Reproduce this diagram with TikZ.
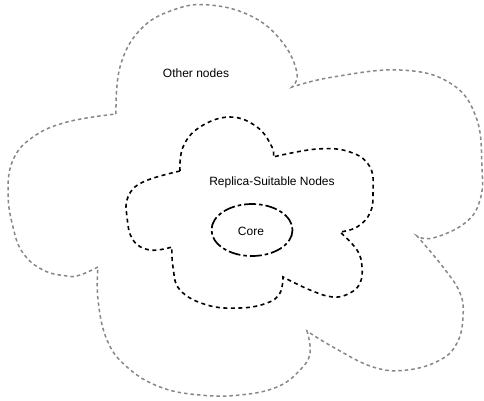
\documentclass[tikz,border=0pt]{standalone}
\usepackage{fontspec}
\setmainfont{Liberation Sans}
\definecolor{outergray}{RGB}{135,135,135}
\begin{document}
\begin{tikzpicture}[x=1pt,y=-1pt,
  outercloud/.style={draw=outergray,line width=1.5pt,dash pattern=on 3.5pt off 3pt},
  innercloud/.style={draw=black,line width=1.6pt,dash pattern=on 4pt off 3.5pt},
  coreline/.style={draw=black,line width=1.7pt,dash pattern=on 12pt off 3pt on 3.5pt off 3pt},
  lbl/.style={font=\fontsize{12}{14}\selectfont,inner sep=0pt}]
\useasboundingbox (0,0) rectangle (484,400);
% outer cloud
\draw[outercloud]
  plot[smooth,tension=0.7] coordinates {(116,114) (120,67) (140,30) (173,10) (210,5) (253,17) (283,43) (297,73) (292,87)}
  -- plot[smooth,tension=0.7] coordinates {(292,87) (333,77) (400,70) (450,83) (476,117) (482,167) (480,200) (465,223) (433,238) (417,236)}
  -- plot[smooth,tension=0.7] coordinates {(417,236) (443,267) (460,293) (463,317) (457,343) (440,360) (407,370) (373,367) (333,347) (307,331)}
  -- plot[smooth,tension=0.7] coordinates {(307,331) (310,353) (300,370) (277,387) (240,395) (200,395) (160,387) (127,367) (107,340) (98,300) (98,267)}
  -- plot[smooth,tension=0.7] coordinates {(98,267) (80,275) (67,276) (43,270) (23,253) (13,227) (8,193) (13,160) (33,137) (67,122) (116,114)};
% inner cloud
\draw[innercloud]
  plot[smooth,tension=0.7] coordinates {(180,171) (183,147) (200,127) (230,117) (257,127) (272,147) (273,157)}
  -- plot[smooth,tension=0.7] coordinates {(273,157) (317,149) (350,152) (370,167) (373,193) (370,213) (357,227) (340,232)}
  -- plot[smooth,tension=0.7] coordinates {(340,232) (357,250) (362,267) (360,283) (350,293) (333,297) (310,290) (283,277)}
  -- plot[smooth,tension=0.7] coordinates {(283,277) (280,293) (267,303) (240,308) (207,305) (180,290) (173,267) (172,247)}
  -- plot[smooth,tension=0.7] coordinates {(172,247) (150,250) (133,240) (127,217) (128,197) (143,182) (180,171)};
% core
\draw[coreline] (252,230) ellipse [x radius=40.5, y radius=26];
\node[lbl] (core) at (251,231) {Core};
\node[lbl] (replica) at (272,182) {Replica-Suitable Nodes};
\node[lbl] (other) at (196,73) {Other nodes};
\end{tikzpicture}
\end{document}
